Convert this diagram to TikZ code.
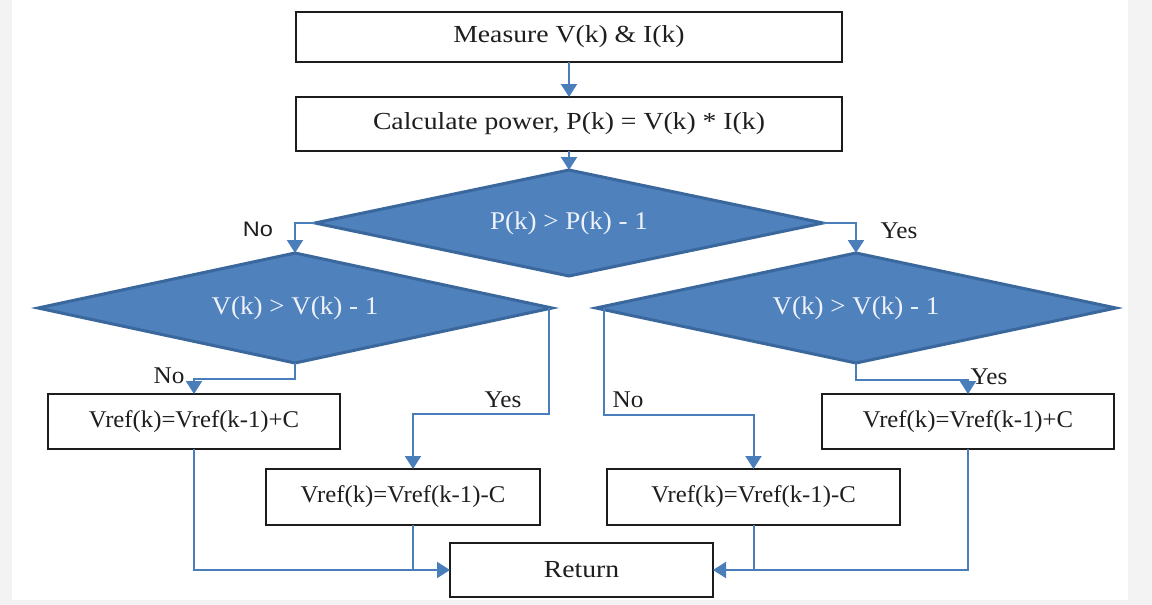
\documentclass[tikz,border=0pt]{standalone}
\usepackage{fontspec}
\usepackage{graphicx}
\setmainfont{Liberation Serif}
\newfontfamily\labelsans{Liberation Sans}
\usetikzlibrary{shapes.geometric,arrows.meta}

\definecolor{flowblue}{HTML}{4A7EBB}
\definecolor{decfill}{HTML}{4F81BD}
\definecolor{decline}{HTML}{3A679C}
\definecolor{boxline}{HTML}{1C1C1C}
\definecolor{boxtext}{HTML}{1E1E1E}
\definecolor{dectext}{HTML}{EEF3FA}
\definecolor{paper}{HTML}{F3F3F3}

% horizontally stretched text
\newcommand\wide[2]{\scalebox{#1}[1]{#2}}

\tikzset{
  procbox/.style={draw=boxline, line width=2.7pt, fill=white, inner sep=0pt,
    outer sep=0pt, text=boxtext, font=\fontsize{24.5}{28}\selectfont},
  vrefbox/.style={procbox, font=\fontsize{24}{28}\selectfont},
  decision/.style={shape=diamond, draw=decline, line width=3pt, fill=decfill,
    inner sep=0pt, outer sep=0pt, text=dectext, font=\fontsize{25.5}{29}\selectfont},
  conn/.style={draw=flowblue, line width=2pt,
    -{Triangle[width=16pt,length=13pt]}},
  plainconn/.style={draw=flowblue, line width=2pt},
  lblserif/.style={text=boxtext, inner sep=0pt, font=\fontsize{24}{27}\selectfont},
  lblsans/.style={text=boxtext, inner sep=0pt, font=\labelsans\fontsize{21}{24}\selectfont},
}

\begin{document}
\begin{tikzpicture}[x=1pt,y=-1pt]
  % page
  \fill[paper] (0,0) rectangle (1152,605);
  \fill[white] (12,0) rectangle (1128,600);
  \useasboundingbox (0,0) rectangle (1152,605);

  % process steps
  \node[procbox, minimum width=546, minimum height=50] (meas) at (569,37)
    {\wide{1.13}{Measure V(k) \& I(k)}};
  \node[procbox, minimum width=546, minimum height=54] (calc) at (569,124)
    {\wide{1.13}{Calculate power, P(k) = V(k) * I(k)}};

  % decisions
  \node[decision, aspect=4.79, minimum width=508, minimum height=106] (dp) at (569,223)
    {\wide{1.06}{P(k) > P(k) - 1}};
  \node[decision, aspect=4.67, minimum width=514, minimum height=110] (dvl) at (295,308)
    {\wide{1.06}{V(k) > V(k) - 1}};
  \node[decision, aspect=4.73, minimum width=520, minimum height=110] (dvr) at (856,308)
    {\wide{1.06}{V(k) > V(k) - 1}};

  % reference updates
  \node[vrefbox, minimum width=292, minimum height=55] (incl) at (194,421.5)
    {\wide{1.03}{Vref(k)=Vref(k-1)+C}};
  \node[vrefbox, minimum width=274, minimum height=56] (decl) at (403,497)
    {\wide{1.03}{Vref(k)=Vref(k-1)-C}};
  \node[vrefbox, minimum width=293, minimum height=56] (decr) at (753.5,497)
    {\wide{1.03}{Vref(k)=Vref(k-1)-C}};
  \node[vrefbox, minimum width=292, minimum height=55] (incr) at (968,421.5)
    {\wide{1.03}{Vref(k)=Vref(k-1)+C}};

  \node[procbox, minimum width=263, minimum height=54] (ret) at (581.5,570)
    {\wide{1.13}{Return}};

  % flow
  \draw[conn] (meas.south) -- (calc.north);
  \draw[conn] (calc.south) -- (dp.north);
  \draw[conn] (dp.west) -| (dvl.north);
  \draw[conn] (dp.east) -| (dvr.north);

  \draw[conn] (dvl.south) -- ++(0,16) -| (incl.north);
  \draw[conn] ([xshift=-3]dvl.east) -- ++(0,106) -| ([xshift=10]decl.north);
  \draw[conn] ([xshift=8]dvr.west) -- ++(0,107) -| (decr.north);
  \draw[conn] (dvr.south) -- ++(0,17) -| (incr.north);

  \draw[conn] (incl.south) |- (ret.west);
  \draw[plainconn] ([xshift=10]decl.south) -- ([xshift=10]decl.south |- ret.west);
  \draw[plainconn] (decr.south) -- (decr.south |- ret.east);
  \draw[conn] (incr.south) |- (ret.east);

  % branch labels
  \node[lblsans] (noTop) at (258,229) {\wide{1.12}{No}};
  \node[lblserif] (yesTop) at (899,231) {\wide{1.05}{Yes}};
  \node[lblserif] (noL) at (169,376) {\wide{1.05}{No}};
  \node[lblserif] (yesL) at (503,400) {\wide{1.05}{Yes}};
  \node[lblserif] (noR) at (628,400) {\wide{1.05}{No}};
  \node[lblserif] (yesR) at (989,377) {\wide{1.05}{Yes}};
\end{tikzpicture}
\end{document}
